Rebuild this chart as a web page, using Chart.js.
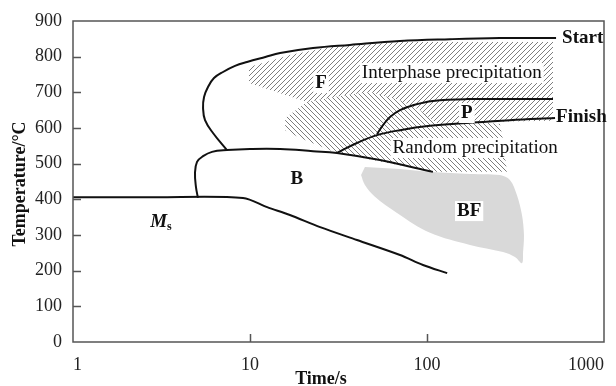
<!DOCTYPE html>
<html><head><meta charset="utf-8">
<script src="https://cdn.jsdelivr.net/npm/chart.js@4.4.1/dist/chart.umd.min.js"></script>
<style>html,body{margin:0;padding:0;background:#fff}#wrap{width:616px;height:386px;position:relative}</style>
</head><body><div id="wrap"><canvas id="c" width="616" height="386"></canvas></div>
<script>
// ---- tick values ----
const xTicks = [1, 10, 100, 1000];
const yTicks = [0, 100, 200, 300, 400, 500, 600, 700, 800, 900];

// ---- curves (time in s, temperature in °C) ----
const fStartTime = [7.41, 6.18, 5.57, 5.43, 5.50, 5.79, 6.26, 7.04, 8.23, 9.62, 12.2, 14.8, 22.7, 36.7, 70.4, 135, 258, 536];
const fStartTemp = [538, 586, 622, 656, 687, 715, 740, 757, 774, 785, 799, 810, 824, 833, 844, 849, 852, 852];

const bStartTime = [5.08, 4.95, 4.89, 5.02, 5.43, 6.10, 7.41, 10.0, 14.8, 22.7, 31.0, 54.2, 108];
const bStartTemp = [404, 435, 474, 505, 521, 533, 538, 541, 541, 535, 530, 510, 477];

const msTime = [1, 2.91, 9.13, 12.5, 16.8, 24.9, 40.2, 70.4, 94.9, 130];
const msTemp = [406, 406, 404, 378, 356, 322, 286, 244, 216, 193];

const finishTime = [31.0, 40.2, 52.2, 70.4, 104, 168, 294, 529];
const finishTemp = [530, 558, 580, 594, 606, 614, 622, 628];

const pStartTime = [52.2, 56.4, 61.8, 70.4, 83.4, 108, 168, 515];
const pStartTemp = [583, 608, 631, 650, 664, 676, 681, 681];

// ---- regions ----
const bfTime = [44.6, 70.4, 104, 175, 258, 294, 322, 344, 353, 349, 344, 314, 269, 175, 104, 67.7, 50.8, 44.6, 42.4];
const bfTemp = [491, 485, 477, 471, 468, 454, 412, 356, 300, 252, 221, 238, 252, 272, 306, 362, 407, 440, 468];

const interTime = [9.87, 16.8, 28.3, 70.4, 515, 515, 199, 118, 91.3, 70.4, 47.6, 32.2, 21.0, 9.87];
const interTemp = [771, 805, 827, 841, 841, 620, 617, 608, 650, 678, 701, 690, 673, 726];

const randTime = [15.8, 21.0, 32.2, 47.6, 70.4, 91.3, 118, 199, 258, 269, 283, 108, 31.0, 19.2, 15.8];
const randTemp = [628, 673, 690, 701, 678, 650, 608, 617, 611, 566, 477, 477, 530, 572, 594];

const pts = (xs, ys) => xs.map((v, i) => ({x: v, y: ys[i]}));

const canvas = document.getElementById('c');
const ctx0 = canvas.getContext('2d');
function hatch(dir) {
  const s = 5;
  const c = document.createElement('canvas');
  c.width = s; c.height = s;
  const g = c.getContext('2d');
  g.strokeStyle = '#6e6e6e'; g.lineWidth = 0.9;
  g.beginPath();
  if (dir > 0) {
    g.moveTo(-1, s + 1); g.lineTo(s + 1, -1);
    g.moveTo(-1, 1); g.lineTo(1, -1);
    g.moveTo(s - 1, s + 1); g.lineTo(s + 1, s - 1);
  } else {
    g.moveTo(-1, -1); g.lineTo(s + 1, s + 1);
    g.moveTo(s - 1, -1); g.lineTo(s + 1, 1);
    g.moveTo(-1, s - 1); g.lineTo(1, s + 1);
  }
  g.stroke();
  return ctx0.createPattern(c, 'repeat');
}

const SERIF = "'Liberation Serif','Times New Roman',serif";
const lineDs = (data, tension) => ({
  data, showLine: true, pointRadius: 0, borderColor: '#111', borderWidth: 2,
  fill: false, tension, order: 0
});
const areaDs = (data, bg, order, tension) => ({
  data, showLine: true, pointRadius: 0, borderWidth: 0, borderColor: 'rgba(0,0,0,0)',
  backgroundColor: bg, fill: 'shape', tension, order
});

const deco = {
  id: 'deco',
  afterDatasetsDraw(chart) {
    const {ctx, chartArea: a, scales: {x, y}} = chart;
    ctx.save();
    ctx.strokeStyle = '#555'; ctx.lineWidth = 1.5;
    ctx.strokeRect(a.left, a.top, a.right - a.left, a.bottom - a.top);
    ctx.beginPath();
    yTicks.forEach(v => { if (v > 0 && v < 900) { const p = Math.round(y.getPixelForValue(v)) + 0.5; ctx.moveTo(a.left, p); ctx.lineTo(a.left + 8, p); } });
    xTicks.forEach(v => { if (v > 1 && v < 1000) { const p = Math.round(x.getPixelForValue(v)) + 0.5; ctx.moveTo(p, a.bottom); ctx.lineTo(p, a.bottom - 8); } });
    ctx.stroke();

    const label = (str, px, py, font, bg, align) => {
      ctx.font = font;
      ctx.textAlign = align || 'center';
      ctx.textBaseline = 'middle';
      if (bg) {
        const w = ctx.measureText(str).width;
        const left = align === 'left' ? px : px - w / 2;
        ctx.fillStyle = '#fff';
        ctx.fillRect(left - 2, py - 10, w + 4, 20);
      }
      ctx.fillStyle = '#111';
      ctx.fillText(str, px, py);
    };
    const X = v => x.getPixelForValue(v), Y = v => y.getPixelForValue(v);
    label('Interphase precipitation', X(138), Y(754), '19px ' + SERIF, true);
    label('Random precipitation', X(187), Y(544), '19px ' + SERIF, true);
    label('F', X(25.2), Y(726), 'bold 19px ' + SERIF, true);
    label('P', X(168), Y(642), 'bold 19px ' + SERIF, true);
    label('B', X(18.4), Y(457), 'bold 19px ' + SERIF, false);
    label('BF', X(173), Y(367), 'bold 19px ' + SERIF, true);
    label('Start', X(fStartTime[fStartTime.length - 1]) + 6, Y(fStartTemp[fStartTemp.length - 1]), 'bold 19px ' + SERIF, false, 'left');
    label('Finish', X(finishTime[finishTime.length - 1]) + 1, Y(finishTemp[finishTemp.length - 1]) - 1, 'bold 19px ' + SERIF, false, 'left');
    // M_s
    ctx.font = 'italic bold 19px ' + SERIF;
    const mw = ctx.measureText('M').width;
    ctx.font = 'bold 12px ' + SERIF;
    const sw = ctx.measureText('s').width;
    const mx = X(3.14) - (mw + sw) / 2, my = Y(336);
    label('M', mx, my, 'italic bold 19px ' + SERIF, false, 'left');
    label('s', mx + mw, my + 5, 'bold 12px ' + SERIF, false, 'left');

    // axis titles
    label('Time/s', 321, 379, 'bold 18px ' + SERIF, false);
    ctx.save();
    ctx.translate(20, 184);
    ctx.rotate(-Math.PI / 2);
    label('Temperature/\u00B0C', 0, 0, 'bold 18px ' + SERIF, false);
    ctx.restore();
    ctx.restore();
  }
};

new Chart(canvas, {
  type: 'scatter',
  data: {
    datasets: [
      lineDs(pts(fStartTime, fStartTemp), 0.4),
      lineDs(pts(bStartTime, bStartTemp), 0.4),
      lineDs(pts(msTime, msTemp), 0.3),
      lineDs(pts(finishTime, finishTemp), 0.4),
      lineDs(pts(pStartTime, pStartTemp), 0.4),
      areaDs(pts(bfTime, bfTemp), '#d9d9d9', 5, 0.35),
      areaDs(pts(interTime, interTemp), hatch(1), 8, 0),
      areaDs(pts(randTime, randTemp), hatch(-1), 9, 0)
    ]
  },
  options: {
    responsive: false, animation: false, devicePixelRatio: 1,
    layout: {padding: {top: 21, right: 12, left: 0, bottom: 0}},
    plugins: {legend: {display: false}, tooltip: {enabled: false}},
    scales: {
      x: {
        type: 'logarithmic', min: 1, max: 1000,
        afterBuildTicks: s => { s.ticks = xTicks.map(v => ({value: v})); },
        afterFit: s => { s.height = 44; s.paddingLeft = 0; s.paddingRight = 0; },
        grid: {display: false, drawTicks: false},
        border: {display: false},
        ticks: {padding: 12, align: 'inner', color: '#222', font: {family: SERIF, size: 18}, callback: v => String(v), maxRotation: 0, autoSkip: false}
      },
      y: {
        type: 'linear', min: 0, max: 900,
        afterBuildTicks: s => { s.ticks = yTicks.map(v => ({value: v})); },
        afterFit: s => { s.width = 73; s.paddingTop = 0; s.paddingBottom = 0; },
        grid: {display: false, drawTicks: false},
        border: {display: false},
        ticks: {padding: 11, color: '#222', font: {family: SERIF, size: 18}, callback: v => String(v)}
      }
    }
  },
  plugins: [deco]
});
</script></body></html>
